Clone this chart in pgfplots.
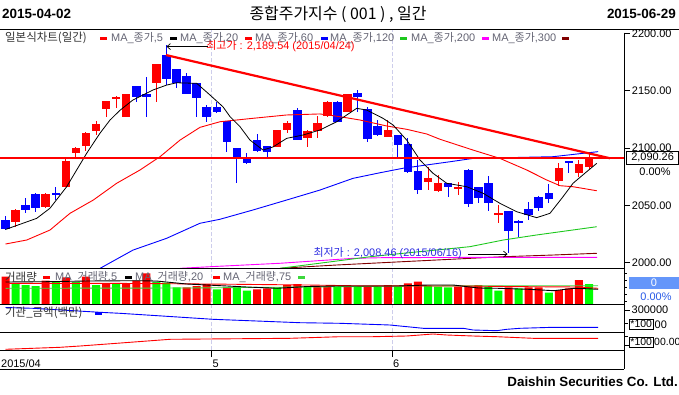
\documentclass[border=0pt]{standalone}
\usepackage{fontspec}
\setmainfont{Liberation Sans}
\newfontfamily\kr{Noto Sans CJK KR}
\usepackage{pgfplots}
\usepackage{pgfplotstable}
\pgfplotsset{compat=1.18}
\usetikzlibrary{arrows.meta}
\definecolor{cR}{RGB}{255,0,0}
\definecolor{cB}{RGB}{0,0,255}
\definecolor{cG}{RGB}{0,255,0}
\definecolor{maG}{RGB}{30,200,30}
\definecolor{vG}{RGB}{60,215,60}
\definecolor{maM}{RGB}{255,0,255}
\definecolor{maD}{RGB}{128,0,0}
\definecolor{gridc}{RGB}{205,205,235}
\definecolor{legtxt}{RGB}{100,100,115}
\definecolor{legdark}{RGB}{50,50,50}
\definecolor{boxblue}{RGB}{100,150,250}
\definecolor{pctblue}{RGB}{40,90,230}
\definecolor{lowblue}{RGB}{45,45,225}
\newcommand{\fs}[1]{\fontsize{#1}{#1}\selectfont}

% up candles (red): index open high low close
\pgfplotstableread{
i o h l c
1 2035.8 2046.5 2031.4 2046.0
4 2049.0 2060.5 2047.5 2060.0
6 2066.3 2091.0 2066.0 2089.0
7 2095.5 2101.0 2092.5 2100.3
8 2101.8 2113.8 2097.7 2113.4
9 2115.0 2124.0 2111.4 2121.0
10 2134.0 2141.5 2127.0 2141.0
11 2143.0 2145.5 2134.7 2144.7
12 2127.4 2147.5 2127.0 2147.2
15 2157.0 2173.8 2140.5 2173.4
27 2101.2 2116.0 2101.0 2115.8
28 2115.8 2123.6 2113.0 2122.2
30 2109.0 2115.5 2101.2 2115.0
31 2115.0 2128.0 2108.5 2122.2
32 2128.0 2140.8 2127.4 2140.5
34 2131.8 2147.5 2131.5 2147.2
38 2110.0 2124.5 2109.8 2115.8
42 2070.7 2083.8 2063.4 2074.2
43 2062.8 2076.5 2062.0 2069.3
45 2064.3 2070.7 2059.0 2066.0
49 2041.6 2050.3 2034.4 2043.3
55 2071.6 2086.7 2066.9 2082.4
57 2078.5 2089.6 2075.0 2085.9
58 2083.2 2095.5 2081.5 2090.26
}\upData

% down candles (blue)
\pgfplotstableread{
i o h l c
0 2037.3 2041.0 2028.5 2029.1
2 2050.4 2056.2 2043.6 2046.0
3 2060.0 2060.5 2044.5 2047.5
5 2061.0 2066.0 2055.0 2059.3
13 2154.2 2154.5 2140.5 2144.9
14 2147.2 2161.8 2127.4 2144.3
16 2181.2 2189.54 2155.0 2160.0
17 2168.7 2169.0 2152.7 2157.0
18 2163.0 2165.3 2147.0 2147.2
19 2156.5 2157.0 2127.4 2143.5
20 2135.6 2137.6 2123.0 2127.4
21 2135.6 2140.5 2131.0 2131.8
22 2123.6 2124.0 2096.9 2105.6
23 2100.3 2100.5 2069.3 2092.5
24 2091.0 2095.5 2086.5 2086.7
25 2107.0 2112.3 2097.0 2097.7
26 2101.8 2102.0 2090.2 2097.0
29 2133.2 2134.7 2107.0 2107.0
33 2140.5 2141.0 2122.8 2123.0
35 2147.8 2150.7 2131.8 2144.3
36 2134.0 2136.0 2105.6 2108.0
37 2119.3 2124.5 2111.0 2111.4
39 2111.4 2111.6 2091.0 2102.7
40 2103.6 2108.5 2078.0 2079.4
41 2080.0 2089.6 2060.0 2063.4
44 2069.3 2069.5 2057.6 2065.8
46 2080.5 2081.5 2048.9 2051.0
47 2066.3 2066.5 2051.8 2056.7
48 2069.3 2075.7 2045.4 2052.4
50 2045.1 2045.3 2008.46 2028.0
51 2036.5 2037.3 2022.7 2034.8
52 2046.6 2053.2 2037.3 2041.6
53 2057.6 2057.8 2045.4 2047.5
54 2060.6 2068.7 2051.8 2055.3
56 2088.4 2088.6 2078.5 2086.7
}\downData

% volume (relative units)
\pgfplotstableread{
i v
0 27.3
4 23.3
6 26.7
8 27.3
10 20.0
12 20.7
13 23.3
14 30.7
18 16.7
19 18.0
20 20.0
22 16.7
25 14.7
26 15.7
28 19.0
29 20.0
31 17.3
32 17.3
34 18.0
36 18.0
38 19.0
40 20.7
41 22.3
45 17.3
46 17.3
47 19.0
50 16.7
52 16.7
53 16.7
55 14.0
56 15.7
57 24.0
}\volR
\pgfplotstableread{
i v
1 20.0
2 19.0
3 18.0
5 22.3
7 22.3
9 19.0
11 20.7
15 22.3
16 21.3
17 16.7
21 14.7
23 17.3
24 13.3
27 16.7
30 17.3
33 17.3
35 17.3
37 17.3
39 17.3
42 18.0
43 17.3
44 16.7
48 17.3
49 13.3
51 15.7
54 11.3
58 20.0
}\volG

\begin{document}
\begin{tikzpicture}[x=1bp,y=1bp]
\useasboundingbox (0,0) rectangle (679,394);

% title row
\node[anchor=west, inner sep=0] at (2,380) {\fs{13.5}\bfseries 2015-04-02};
\node[inner sep=0] at (338,380) {\kr\fs{16}종합주가지수 ( 001 ) , 일간};
\node[anchor=east, inner sep=0] at (676,380) {\fs{13.5}\bfseries 2015-06-29};

% dashed month grid
\draw[gridc, line width=0.8bp, dash pattern=on 4bp off 2bp] (211.7,44) -- (211.7,364);
\draw[gridc, line width=0.8bp, dash pattern=on 4bp off 2bp] (392.3,44) -- (392.3,364);

% ===== price panel =====
\begin{axis}[at={(0bp,125.5bp)}, anchor=south west, scale only axis,
  width=624bp, height=238.5bp, xmin=-0.547, xmax=61.48,
  ymin=1994.94, ymax=2203.05, hide axis, clip mode=individual]
% wicks
\addplot[draw=none, mark=none, forget plot, error bars/.cd, y dir=both, y explicit,
  error mark=none, error bar style={draw=cR, solid, line width=1bp}]
  table[x=i, y expr={(\thisrow{h}+\thisrow{l})/2}, y error expr={(\thisrow{h}-\thisrow{l})/2}] \upData;
\addplot[draw=none, mark=none, forget plot, error bars/.cd, y dir=both, y explicit,
  error mark=none, error bar style={draw=cB, solid, line width=1bp}]
  table[x=i, y expr={(\thisrow{h}+\thisrow{l})/2}, y error expr={(\thisrow{h}-\thisrow{l})/2}] \downData;
% bodies
\addplot[draw=none, mark=none, forget plot, error bars/.cd, y dir=both, y explicit,
  error mark=none, error bar style={draw=cR, solid, line width=8.5bp}]
  table[x=i, y expr={(\thisrow{o}+\thisrow{c})/2}, y error expr={abs(\thisrow{c}-\thisrow{o})/2}] \upData;
\addplot[draw=none, mark=none, forget plot, error bars/.cd, y dir=both, y explicit,
  error mark=none, error bar style={draw=cB, solid, line width=8.5bp}]
  table[x=i, y expr={(\thisrow{o}+\thisrow{c})/2}, y error expr={abs(\thisrow{c}-\thisrow{o})/2}] \downData;
% moving averages
\addplot[maD, line width=0.9bp, mark=none] coordinates {(27.29,1995.1) (32.92,1998) (39.51,2000.9) (46.17,2003.8) (49.45,2005.2) (54.42,2006.7) (58.77,2008.2)};
\addplot[maM, line width=0.9bp, mark=none] coordinates {(17.35,1995.1) (20.33,1996.5) (27.29,1999.5) (34.54,2003.8) (37.52,2004.4) (49.45,2004.7) (58.80,2004.7)};
\addplot[maG, line width=0.9bp, mark=none] coordinates {(27.29,1995.1) (36.23,2005.2) (39.51,2008.2) (42.86,2011.1) (46.17,2014) (49.48,2019.8) (52.80,2024.2) (58.77,2031.4)};
\addplot[cB, line width=0.9bp, mark=none] coordinates {(9.22,1994.2) (12.67,2011) (16.02,2021.3) (19.33,2034.4) (21.32,2037.9) (24.60,2046) (27.95,2054.7) (31.26,2063.4) (34.54,2073.6) (37.23,2078.5) (39.51,2082.4) (41.87,2085.3) (44.19,2088.1) (46.47,2091) (54.42,2092.5) (58.90,2096.9)};
\addplot[cR, line width=0.9bp, mark=none] coordinates {(0,2016.3) (2.11,2019.8) (4.42,2028.5) (6.41,2043.1) (8.73,2054.7) (11.05,2069.3) (13.37,2080.9) (15.36,2092.5) (17.35,2107) (19.33,2118.1) (21.32,2123) (24.60,2126) (27.95,2128.9) (31.26,2129.8) (33.25,2127.4) (35.24,2124.5) (37.89,2119.3) (39.88,2116.4) (41.87,2112.3) (43.19,2107.7) (46.47,2098.3) (49.15,2091) (51.81,2080.9) (53.79,2072.2) (55.12,2067.2) (56.41,2066.3) (58.77,2062.8)};
\addplot[black, line width=0.8bp, mark=none] coordinates {(0,2029) (3.10,2038.7) (4.42,2047.5) (6.08,2066.3) (7.08,2081) (8.07,2095.5) (9.39,2113) (10.39,2124.5) (11.38,2133) (12.67,2142) (14.66,2150.7) (16.02,2155) (17.02,2157) (19.01,2156.5) (20.33,2146.3) (21.62,2136) (22.32,2127.4) (23.31,2118.7) (24.30,2107) (25.60,2098.3) (26.59,2101) (27.95,2108.5) (29.57,2111.4) (31.26,2115.8) (32.92,2123) (33.92,2128.9) (34.91,2134.7) (35.90,2133.2) (37.52,2126) (38.52,2120.2) (39.88,2107) (41.20,2089.6) (42.50,2078) (43.86,2069.3) (45.84,2066.3) (47.47,2060.6) (49.15,2051.8) (50.81,2044.5) (52.80,2039.3) (54.12,2043.1) (55.42,2057.6) (56.41,2069.3) (57.77,2079.4) (58.77,2086.7)};
% support / resistance lines
\addplot[cR, line width=2.2bp, mark=none] coordinates {(-0.6,2091.7) (61.48,2091.7)};
\addplot[cR, line width=2.2bp, mark=none] coordinates {(15.95,2181.2) (60.1,2091.1)};
% annotations
\draw[-{Straight Barb[length=3.5bp,width=6bp]}, line width=0.7bp] (axis cs:20.13,2188.6) -- (axis cs:16,2188.6);
\node[anchor=west, inner sep=0, text=cR] at (axis cs:19.95,2189.0) {\fs{11}{\kr 최고가} : 2,189.54 (2015/04/24)};
\node[anchor=west, inner sep=0, text=lowblue] at (axis cs:30.6,2008.7) {\fs{11}{\kr 최저가} : 2,008.46 (2015/06/16)};
\draw[-{Straight Barb[length=3.5bp,width=6bp]}, line width=0.7bp] (axis cs:45.97,2007.5) -- (axis cs:49.9,2007.5);
% right ticks
\pgfplotsinvokeforeach{2000,2050,2100,2150,2200}{
  \draw[line width=0.8bp] (axis cs:61.48,#1) -- ++(6bp,0bp) node[anchor=west, inner sep=0, xshift=1.5bp] {\fs{11}#1.00};
}
\end{axis}

% ===== volume panel =====
\begin{axis}[at={(0bp,90bp)}, anchor=south west, scale only axis,
  width=624bp, height=35bp, xmin=-0.547, xmax=61.48,
  ymin=0, ymax=35, hide axis, clip mode=individual]
\addplot[ybar, bar width=8bp, bar shift=0pt, fill=cR, draw=none] table[x=i,y=v] \volR;
\addplot[ybar, bar width=8bp, bar shift=0pt, fill=cG, draw=none] table[x=i,y=v] \volG;
\addplot[vG, line width=0.9bp, mark=none] coordinates {(0,15.7) (18,16) (30,17) (40,18) (58.9,18.3)};
\addplot[cR, line width=0.9bp, mark=none] coordinates {(0,20.7) (10,20.7) (20,20) (30,19) (35,18.2) (45,18) (52,17.3) (57,17) (58.9,15.7)};
\addplot[black, line width=0.9bp, mark=none] coordinates {(0,22) (4,22.3) (8,23) (13,23.3) (15,23) (18,20) (21,18.5) (24,17) (27,15.7) (30,17.5) (33,18) (36,18) (39,18) (42,19) (44.5,19) (47,16) (49,15.7) (52,14.7) (54.5,13.3) (56.5,15.7) (58,15.2) (58.9,14.7)};
\end{axis}

% ===== institution amount panel =====
\begin{axis}[at={(0bp,62bp)}, anchor=south west, scale only axis,
  width=624bp, height=28bp, xmin=-0.547, xmax=61.48,
  ymin=80000, ymax=360000, hide axis, clip mode=individual]
\addplot[cB, line width=0.9bp, mark=none] coordinates {(0,325000) (2.73,317000) (9.39,277000) (11.38,267000) (16.65,233000) (20.63,207000) (29.27,173000) (33.25,167000) (38.22,150000) (39.21,140000) (41.53,117000) (45.51,117000) (46.47,100000) (48.83,93000) (49.82,107000) (51.14,117000) (54.42,127000) (58.90,127000)};
\end{axis}

% ===== third panel =====
\begin{axis}[at={(0bp,44bp)}, anchor=south west, scale only axis,
  width=624bp, height=18bp, xmin=-0.547, xmax=61.48,
  ymin=0, ymax=180, hide axis, clip mode=individual]
\addplot[cR, line width=0.9bp, mark=none] coordinates {(0,7) (5.42,27) (7.41,40) (11.05,67) (16.35,107) (28.28,117) (33.25,133) (36.53,133) (39.88,140) (42.50,160) (43.86,150) (46.47,140) (48.83,133) (52.45,117) (58.90,117)};
\end{axis}

% frames
\draw[line width=1bp] (0,364) -- (679,364);
\draw[line width=1bp] (0,125.5) -- (624,125.5);
\draw[line width=1bp] (0,90) -- (624,90);
\draw[line width=1bp] (0,62) -- (624,62);
\draw[line width=1bp] (0,44) -- (624,44);
\draw[line width=1bp] (0,25) -- (624,25);
\draw[line width=1bp] (624,361.3) -- (624,25);

% legends
\node[anchor=west, inner sep=0, text=legdark] at (5,356) {\kr\fs{11.5}일본식차트(일간)};
\fill[cR] (100,354.5) rectangle (107,357.5);
\node[anchor=west, inner sep=0, text=legtxt] at (111,356) {\fs{11}MA\_{\kr 종가},5};
\fill[black] (170,354.5) rectangle (177,357.5);
\node[anchor=west, inner sep=0, text=legtxt] at (180,356) {\fs{11}MA\_{\kr 종가},20};
\fill[cR] (245,354.5) rectangle (252,357.5);
\node[anchor=west, inner sep=0, text=legtxt] at (255,356) {\fs{11}MA\_{\kr 종가},60};
\fill[cB] (321,354.5) rectangle (328,357.5);
\node[anchor=west, inner sep=0, text=legtxt] at (330,356) {\fs{11}MA\_{\kr 종가},120};
\fill[maG] (400,354.5) rectangle (407,357.5);
\node[anchor=west, inner sep=0, text=legtxt] at (411,356) {\fs{11}MA\_{\kr 종가},200};
\fill[maM] (482,354.5) rectangle (489,357.5);
\node[anchor=west, inner sep=0, text=legtxt] at (492,356) {\fs{11}MA\_{\kr 종가},300};
\fill[maD] (562,354.5) rectangle (569,357.5);

\node[anchor=west, inner sep=0, text=legdark] at (5,117) {\kr\fs{11.5}거래량};
\fill[cR] (43,115.5) rectangle (50,118.5);
\node[anchor=west, inner sep=0, text=legtxt] at (55,117) {\fs{11}MA\_{\kr 거래량},5};
\fill[black] (125,115.5) rectangle (132,118.5);
\node[anchor=west, inner sep=0, text=legtxt] at (135,117) {\fs{11}MA\_{\kr 거래량},20};
\fill[cR] (213,115.5) rectangle (220,118.5);
\node[anchor=west, inner sep=0, text=legtxt] at (223,117) {\fs{11}MA\_{\kr 거래량},75};
\fill[vG] (298,115.5) rectangle (305,118.5);

\node[anchor=west, inner sep=0, text=legdark] at (5,80.7) {\kr\fs{11.5}기관\_금액(백만)};
\fill[cB] (95,79.2) rectangle (102,82.2);

% right side labels
\filldraw[fill=white, draw=black, line width=0.8bp] (626.7,230) rectangle (678.5,242.3);
\node[inner sep=0] at (652.6,236.2) {\fs{11}2,090.26};
\node[inner sep=0] at (655,222) {\fs{11}0.00\%};

\foreach \yy in {121,114,107,100,93} {\draw[line width=0.7bp] (624,\yy) -- (627,\yy);}
\fill[boxblue] (629,104.7) rectangle (679,117.3);
\node[inner sep=0, text=white] at (654,111) {\fs{11}0};
\node[inner sep=0, text=pctblue] at (656,97.3) {\fs{11}0.00\%};

\draw[line width=0.8bp] (624,84) -- (630,84);
\draw[line width=0.8bp] (624,70.7) -- (628,70.7);
\node[anchor=west, inner sep=0] at (631.5,84) {\fs{11}300000};
\draw[line width=0.8bp] (629,65) rectangle (653.3,75);
\node[inner sep=0] at (641.2,70) {\fs{10.5}*100};
\node[anchor=west, inner sep=0] at (654.5,69) {\fs{11}00};

\draw[line width=0.8bp] (624,57.3) -- (628,57.3);
\draw[line width=0.8bp] (624,49) -- (630,49);
\draw[line width=0.8bp] (629,46.7) rectangle (653.3,56.7);
\node[inner sep=0] at (641.2,51.7) {\fs{10.5}*100};
\node[anchor=west, inner sep=0] at (654,52.3) {\fs{10.5}00.00};

% bottom date axis
\draw[line width=0.8bp] (211.7,44) -- (211.7,37.3);
\draw[line width=0.8bp] (392.3,44) -- (392.3,37.3);
\node[anchor=west, inner sep=0] at (1,30.7) {\fs{11}2015/04};
\node[anchor=west, inner sep=0] at (212.5,30.7) {\fs{11}5};
\node[anchor=west, inner sep=0] at (393,30.7) {\fs{11}6};

% footer
\node[anchor=east, inner sep=0] at (678,12.3) {\fs{13.4}\bfseries Daishin Securities Co. Ltd.};
\end{tikzpicture}
\end{document}
